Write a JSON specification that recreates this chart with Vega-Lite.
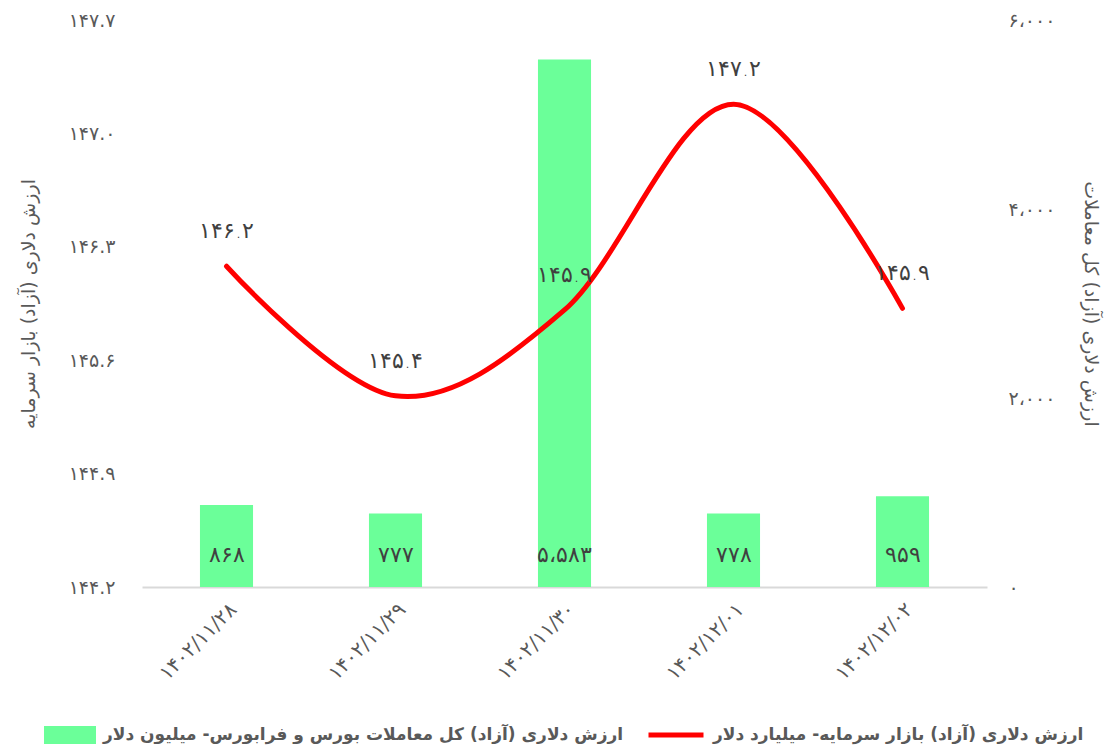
{
  "$schema": "https://vega.github.io/schema/vega-lite/v6.json",
  "width": 845,
  "height": 567,
  "autosize": "none",
  "padding": {"left": 142, "top": 20, "right": 130, "bottom": 163},
  "background": "white",
  "config": {
    "font": "DejaVu Sans",
    "view": {"stroke": null},
    "locale": {
      "number": {
        "decimal": ".",
        "thousands": "،",
        "grouping": [3],
        "currency": ["", ""],
        "numerals": ["۰", "۱", "۲", "۳", "۴", "۵", "۶", "۷", "۸", "۹"]
      }
    },
    "axis": {
      "grid": false,
      "ticks": false,
      "domain": false,
      "labelColor": "#595959",
      "titleColor": "#595959",
      "labelFontSize": 19,
      "titleFontSize": 19,
      "titleFontWeight": "normal"
    },
    "axisX": {
      "domain": true,
      "domainColor": "#d9d9d9",
      "domainWidth": 2,
      "labelAngle": -45,
      "labelPadding": 12,
      "labelFontSize": 20
    },
    "legend": {
      "orient": "none",
      "direction": "horizontal",
      "labelFontSize": 17,
      "labelFontWeight": "bold",
      "labelColor": "#595959",
      "labelLimit": 0,
      "labelOffset": 7,
      "title": null
    }
  },
  "datasets": {
    "main": [
      {"date": "۱۴۰۲/۱۱/۲۸", "trade": 868, "capital": 146.18},
      {"date": "۱۴۰۲/۱۱/۲۹", "trade": 777, "capital": 145.38},
      {"date": "۱۴۰۲/۱۱/۳۰", "trade": 5583, "capital": 145.91},
      {"date": "۱۴۰۲/۱۲/۰۱", "trade": 778, "capital": 147.18},
      {"date": "۱۴۰۲/۱۲/۰۲", "trade": 959, "capital": 145.92}
    ]
  },
  "data": {"name": "main"},
  "encoding": {
    "x": {
      "field": "date",
      "type": "nominal",
      "sort": null,
      "scale": {"paddingInner": 0.686, "paddingOuter": 0.343},
      "axis": {"title": null}
    }
  },
  "layer": [
    {
      "layer": [
        {
          "mark": {"type": "bar"},
          "encoding": {
            "y": {
              "field": "trade",
              "type": "quantitative",
              "scale": {"domain": [0, 6000], "nice": false},
              "axis": {
                "orient": "right",
                "title": "ارزش دلاری (آزاد) کل معاملات",
                "values": [0, 2000, 4000, 6000],
                "format": ",.0f",
                "labelPadding": 21,
                "titlePadding": 26
              }
            },
            "fill": {
              "datum": "ارزش دلاری (آزاد) کل معاملات بورس و فرابورس- میلیون دلار",
              "scale": {"range": ["#6bff99"]},
              "legend": {
                "symbolType": "M-1,-0.35H1V0.35H-1Z",
                "symbolSize": 2704,
                "symbolStrokeWidth": 0,
                "legendX": -98,
                "legendY": 689
              }
            }
          }
        },
        {
          "mark": {"type": "text", "dy": -32, "fontSize": 22, "fontWeight": 300, "color": "#404040", "baseline": "middle"},
          "encoding": {
            "y": {"datum": 0, "type": "quantitative"},
            "text": {"field": "trade", "type": "quantitative", "format": ","}
          }
        }
      ]
    },
    {
      "layer": [
        {
          "mark": {"type": "line", "interpolate": "cardinal", "strokeWidth": 5, "strokeCap": "round"},
          "encoding": {
            "y": {
              "field": "capital",
              "type": "quantitative",
              "scale": {"domain": [144.2, 147.7], "nice": false, "zero": false},
              "axis": {
                "orient": "left",
                "title": "ارزش دلاری (آزاد) بازار سرمایه",
                "values": [144.2, 144.9, 145.6, 146.3, 147.0, 147.7],
                "format": ".1f",
                "labelPadding": 27,
                "titlePadding": 30
              }
            },
            "stroke": {
              "datum": "ارزش دلاری (آزاد) بازار سرمایه- میلیارد دلار",
              "scale": {"range": ["#ff0000"]},
              "legend": {
                "symbolType": "stroke",
                "symbolStrokeWidth": 5,
                "symbolSize": 3025,
                "legendX": 504,
                "legendY": 685
              }
            }
          }
        },
        {
          "mark": {"type": "text", "dy": -35, "fontSize": 22, "fontWeight": 300, "color": "#404040", "baseline": "middle"},
          "encoding": {
            "y": {"field": "capital", "type": "quantitative"},
            "text": {"field": "capital", "type": "quantitative", "format": ".1f"}
          }
        }
      ]
    }
  ],
  "resolve": {"scale": {"y": "independent"}}
}
